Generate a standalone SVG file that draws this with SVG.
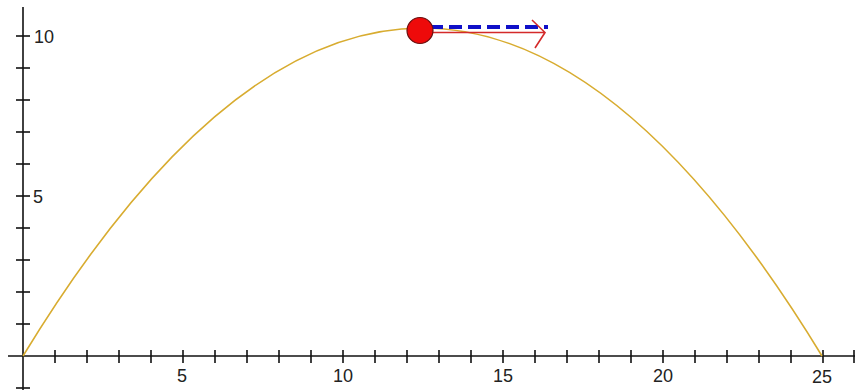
<svg xmlns="http://www.w3.org/2000/svg" width="855" height="390" viewBox="0 0 855 390">
<style>
.ax{stroke:#111;stroke-width:1.6;fill:none}
.tk{stroke:#111;stroke-width:1.6}
.lbl{font-family:"Liberation Sans",Arial,sans-serif;font-size:18px;fill:#222}
</style>
<rect width="855" height="390" fill="#fff"/>
<g id="axes">
<line class="ax" x1="8" y1="356" x2="855" y2="356"/>
<line class="ax" x1="23" y1="7" x2="23" y2="390"/>
<g id="xticks" class="tk">
<line x1="55" y1="350" x2="55" y2="363"/><line x1="87" y1="350" x2="87" y2="363"/><line x1="119" y1="350" x2="119" y2="363"/><line x1="151" y1="350" x2="151" y2="363"/><line x1="183" y1="350" x2="183" y2="363"/>
<line x1="215" y1="350" x2="215" y2="363"/><line x1="247" y1="350" x2="247" y2="363"/><line x1="279" y1="350" x2="279" y2="363"/><line x1="311" y1="350" x2="311" y2="363"/><line x1="343" y1="350" x2="343" y2="363"/>
<line x1="375" y1="350" x2="375" y2="363"/><line x1="407" y1="350" x2="407" y2="363"/><line x1="439" y1="350" x2="439" y2="363"/><line x1="471" y1="350" x2="471" y2="363"/><line x1="503" y1="350" x2="503" y2="363"/>
<line x1="535" y1="350" x2="535" y2="363"/><line x1="567" y1="350" x2="567" y2="363"/><line x1="599" y1="350" x2="599" y2="363"/><line x1="631" y1="350" x2="631" y2="363"/><line x1="663" y1="350" x2="663" y2="363"/>
<line x1="695" y1="350" x2="695" y2="363"/><line x1="727" y1="350" x2="727" y2="363"/><line x1="759" y1="350" x2="759" y2="363"/><line x1="791" y1="350" x2="791" y2="363"/><line x1="823" y1="350" x2="823" y2="363"/>
<line x1="854" y1="350" x2="854" y2="363"/>
</g>
<g id="yticks" class="tk">
<line x1="16" y1="388" x2="30" y2="388"/>
<line x1="16" y1="324" x2="30" y2="324"/><line x1="16" y1="292" x2="30" y2="292"/><line x1="16" y1="260" x2="30" y2="260"/><line x1="16" y1="228" x2="30" y2="228"/><line x1="16" y1="196" x2="30" y2="196"/>
<line x1="16" y1="164" x2="30" y2="164"/><line x1="16" y1="132" x2="30" y2="132"/><line x1="16" y1="100" x2="30" y2="100"/><line x1="16" y1="68" x2="30" y2="68"/><line x1="16" y1="36" x2="30" y2="36"/>
</g>
<g id="labels" class="lbl">
<text x="182" y="382" text-anchor="middle">5</text>
<text x="343" y="382" text-anchor="middle">10</text>
<text x="503" y="382" text-anchor="middle">15</text>
<text x="663" y="382" text-anchor="middle">20</text>
<text x="822" y="383" text-anchor="middle">25</text>
<text x="34" y="43">10</text>
<text x="33" y="203">5</text>
</g>
</g>
<g id="trajectory">
<path d="M23,356 Q422.5,-300 822,356" fill="none" stroke="#d8ac30" stroke-width="1.6"/>
</g>
<g id="connectors">
<line x1="430" y1="27" x2="548" y2="27" stroke="#1010c8" stroke-width="4" stroke-dasharray="13,6"/>
<path d="M420,32.5 H545 M532,20 L545,32.5 L535,48" fill="none" stroke="#d42a2a" stroke-width="1.6"/>
</g>
<g id="ball">
<circle cx="420" cy="30.5" r="13" fill="#ee0a0a" stroke="#6a1010" stroke-width="1.2"/>
</g>
</svg>
